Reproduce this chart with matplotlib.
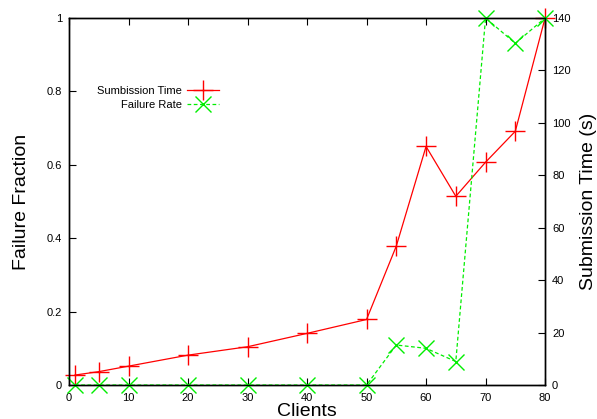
import matplotlib
matplotlib.use("Agg")
import matplotlib.pyplot as plt

plt.rcParams["font.family"] = ["Liberation Sans", "DejaVu Sans"]

# values
clients = [1, 5, 10, 20, 30, 40, 50, 55, 60, 65, 70, 75, 80]
submission_time = [3.8, 5.1, 7.2, 11.4, 14.6, 19.7, 25.0, 53.0, 91.0, 72.0, 85.0, 96.8, 140.0]
failure_rate = [0, 0, 0, 0, 0, 0, 0, 0.109, 0.100, 0.064, 1.0, 0.931, 1.0]

x_ticks = [0, 10, 20, 30, 40, 50, 60, 70, 80]
y1_ticks = [0, 0.2, 0.4, 0.6, 0.8, 1]
y1_labels = ["0", "0.2", "0.4", "0.6", "0.8", "1"]
y2_ticks = [0, 20, 40, 60, 80, 100, 120, 140]

fig = plt.figure(figsize=(5.97, 4.19), dpi=100)
ax1 = fig.add_subplot(111)
fig.subplots_adjust(left=0.1156, right=0.913, top=0.957, bottom=0.0811)
ax2 = ax1.twinx()

# failure rate on the left axis, submission time on the right one
l_fail, = ax1.plot(clients, failure_rate, color="#00ee00", linestyle=(0, (3, 2)), linewidth=0.9,
                   marker="x", markersize=12, markeredgewidth=1.0, label="Failure Rate", clip_on=False)
l_time, = ax2.plot(clients, submission_time, color="#ff0000", linewidth=0.9,
                   marker="+", markersize=14, markeredgewidth=1.0, label="Sumbission Time", clip_on=False)

ax1.set_xlim(0, 80)
ax1.set_ylim(0, 1)
ax2.set_ylim(0, 140)

ax1.set_xticks(x_ticks)
ax1.set_yticks(y1_ticks)
ax1.set_yticklabels(y1_labels)
ax2.set_yticks(y2_ticks)

ax1.tick_params(axis="x", direction="in", top=True, length=5, width=0.8, labelsize=8, pad=6)
ax1.tick_params(axis="y", direction="in", right=False, length=5, width=0.8, labelsize=8, pad=5)
ax2.tick_params(axis="y", direction="in", length=5, width=0.8, labelsize=8, pad=5)

for ax in (ax1, ax2):
    for s in ax.spines.values():
        s.set_linewidth(1.0)

ax1.set_xlabel("Clients", fontsize=14, labelpad=-0.5)
ax1.set_ylabel("Failure Fraction", fontsize=14, labelpad=12)
ax2.set_ylabel("Submission Time (s)", fontsize=14, labelpad=7)

leg = ax1.legend([l_time, l_fail], ["Sumbission Time", "Failure Rate"], loc="upper left",
                 bbox_to_anchor=(0.042, 0.835), frameon=False, markerfirst=False, fontsize=8,
                 handlelength=2.9, labelspacing=0.3, handletextpad=0.5, borderpad=0.2)
for t in leg.get_texts():
    t.set_ha("right")
ax1.set_zorder(ax2.get_zorder() + 1)
ax1.patch.set_visible(False)

fig.savefig("out.png", dpi=100)
